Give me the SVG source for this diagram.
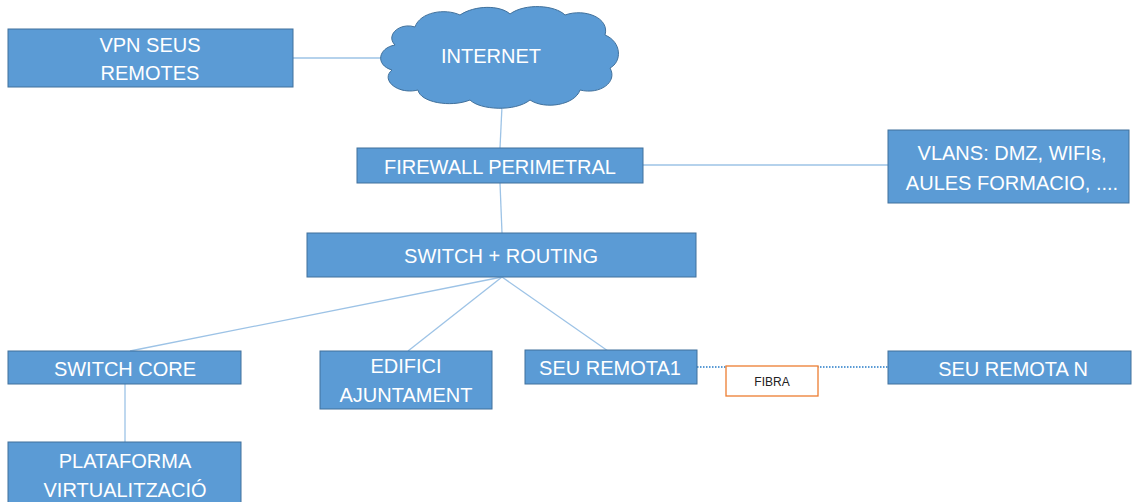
<svg xmlns="http://www.w3.org/2000/svg" width="1132" height="502" viewBox="0 0 1132 502">
<style>
.box{fill:#5B9BD5;stroke:#41719C;stroke-width:1}
.t{font-family:"Liberation Sans",Arial,sans-serif;font-size:20px;fill:#FFFFFF;text-anchor:middle}
.c{stroke:#9DC3E6;stroke-width:1.3;fill:none}
.dot{stroke:#5B9BD5;stroke-width:2;stroke-dasharray:1.5 1.5;fill:none}
</style>
<rect width="1132" height="502" fill="#FFFFFF"/>
<g id="connectors">
<line class="c" x1="293" y1="58" x2="382" y2="58"/>
<line class="c" x1="502" y1="106" x2="500" y2="148"/>
<line class="c" x1="500" y1="183" x2="502" y2="233"/>
<line class="c" x1="643" y1="165" x2="888" y2="165"/>
<line class="c" x1="502" y1="277" x2="130" y2="351"/>
<line class="c" x1="502" y1="277" x2="408" y2="351"/>
<line class="c" x1="502" y1="277" x2="608" y2="351"/>
<line class="c" x1="125" y1="384" x2="125" y2="442"/>
<line class="dot" x1="697" y1="367" x2="888" y2="367"/>
</g>
<g id="vpn">
<rect class="box" x="8" y="29" width="285" height="58"/>
<text class="t" x="150" y="52">VPN SEUS</text>
<text class="t" x="150" y="80">REMOTES</text>
</g>
<g id="internet">
<path class="box" d="M 395 45 C 385 35, 400 22, 415 27 C 420 12, 445 8, 460 15 C 475 5, 500 5, 510 14 C 525 3, 555 5, 565 15 C 585 8, 610 18, 605 35 C 622 42, 622 62, 610 68 C 618 82, 600 95, 580 90 C 575 105, 545 110, 530 100 C 515 112, 480 110, 470 100 C 450 108, 420 102, 418 90 C 398 95, 380 80, 392 70 C 375 65, 378 48, 395 45 Z"/>
<text class="t" x="491" y="63">INTERNET</text>
</g>
<g id="firewall">
<rect class="box" x="357" y="148" width="286" height="35"/>
<text class="t" x="500" y="174">FIREWALL PERIMETRAL</text>
</g>
<g id="vlans">
<rect class="box" x="888" y="130" width="241" height="73"/>
<text class="t" x="1012" y="160">VLANS: DMZ, WIFIs,</text>
<text class="t" x="1012" y="190">AULES FORMACIO, ....</text>
</g>
<g id="switch-routing">
<rect class="box" x="307" y="233" width="389" height="44"/>
<text class="t" x="501" y="263">SWITCH + ROUTING</text>
</g>
<g id="switch-core">
<rect class="box" x="8" y="351" width="233" height="33"/>
<text class="t" x="125" y="376">SWITCH CORE</text>
</g>
<g id="edifici">
<rect class="box" x="320" y="351" width="172" height="58"/>
<text class="t" x="406" y="373">EDIFICI</text>
<text class="t" x="406" y="402">AJUNTAMENT</text>
</g>
<g id="seu-remota1">
<rect class="box" x="525" y="350" width="172" height="34"/>
<text class="t" x="610" y="375">SEU REMOTA1</text>
</g>
<g id="seu-remota-n">
<rect class="box" x="888" y="351" width="243" height="33"/>
<text class="t" x="1013" y="376">SEU REMOTA N</text>
</g>
<g id="fibra">
<rect x="726" y="366" width="92" height="30" fill="#FFFFFF" stroke="#ED7D31" stroke-width="1.3"/>
<text x="772" y="386" font-family="Liberation Sans, Arial, sans-serif" font-size="12" fill="#222222" text-anchor="middle">FIBRA</text>
</g>
<g id="plataforma">
<rect class="box" x="8" y="442" width="233" height="70"/>
<text class="t" x="125" y="468">PLATAFORMA</text>
<text class="t" x="125" y="497">VIRTUALITZACIÓ</text>
</g>
</svg>
